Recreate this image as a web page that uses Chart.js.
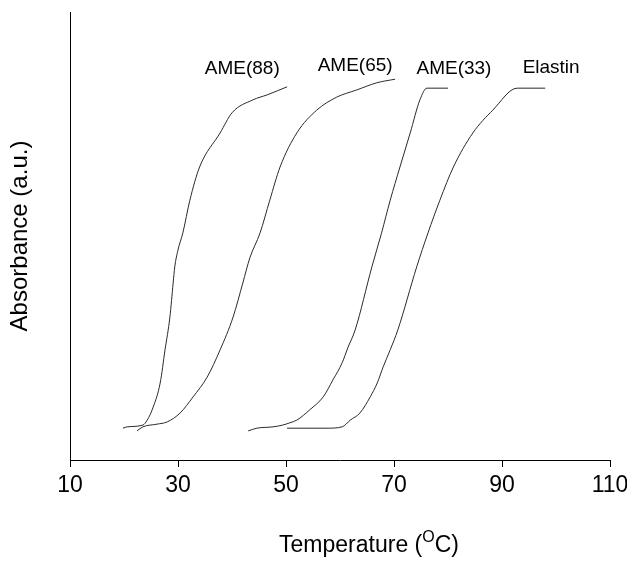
<!DOCTYPE html>
<html>
<head>
    <title></title>
    <script src="https://cdn.jsdelivr.net/npm/chart.js"></script>
    <style>
        body { margin: 0; background: #fff; }
        canvas { display: block; }
    </style>
</head>
<body>
    <canvas id="meltChart" width="627" height="561"></canvas>

    <script>
        // temperature (C) and absorbance (a.u.)
        const ame88T = [19.8, 20.6, 23.5, 24.3, 25.4, 26.7, 27.6, 28.5, 29.1, 29.4, 30.0, 30.9, 32.2, 34.0, 37.8, 40.0, 43.9, 46.5, 50.2];
        const ame88A = [0.071, 0.074, 0.078, 0.089, 0.118, 0.172, 0.246, 0.319, 0.395, 0.431, 0.469, 0.507, 0.580, 0.654, 0.730, 0.775, 0.804, 0.815, 0.833];

        const ame65T = [22.4, 23.5, 26.1, 28.0, 30.4, 32.8, 35.4, 37.8, 40.2, 42.0, 43.3, 45.2, 47.0, 48.9, 52.0, 55.7, 59.4, 63.1, 66.8, 70.2];
        const ame65A = [0.065, 0.074, 0.080, 0.085, 0.105, 0.141, 0.185, 0.246, 0.319, 0.395, 0.451, 0.507, 0.580, 0.654, 0.730, 0.781, 0.810, 0.826, 0.842, 0.850];

        const ame33T = [43.0, 44.6, 47.6, 49.4, 50.7, 52.0, 54.4, 56.9, 58.7, 60.4, 61.5, 62.8, 65.9, 67.7, 69.3, 71.1, 73.0, 74.8, 76.1, 80.0];
        const ame33A = [0.065, 0.071, 0.074, 0.078, 0.083, 0.089, 0.112, 0.141, 0.179, 0.217, 0.252, 0.290, 0.431, 0.507, 0.580, 0.654, 0.730, 0.804, 0.830, 0.830];

        const elastinT = [50.2, 57.6, 60.4, 61.9, 63.7, 65.6, 66.9, 68.0, 69.3, 70.7, 74.2, 76.3, 78.5, 81.0, 84.6, 88.3, 92.8, 98.0];
        const elastinA = [0.071, 0.071, 0.074, 0.089, 0.105, 0.141, 0.172, 0.208, 0.246, 0.290, 0.431, 0.507, 0.580, 0.654, 0.730, 0.781, 0.830, 0.830];

        // curve labels (text, temperature, absorbance of baseline)
        const curveNames = ['AME(88)', 'AME(65)', 'AME(33)', 'Elastin'];
        const nameT = [41.9, 62.8, 81.1, 99.1];
        const nameA = [0.862, 0.868, 0.862, 0.864];

        const xTicks = [10, 30, 50, 70, 90, 110];

        const FONT = "'Liberation Sans', Arial, sans-serif";

        function pts(t, a) {
            return t.map((v, i) => ({ x: v, y: a[i] }));
        }

        function curve(label, t, a) {
            return {
                label: label,
                data: pts(t, a),
                borderColor: '#2a2a2a',
                borderWidth: 1,
                pointRadius: 0,
                cubicInterpolationMode: 'monotone',
                fill: false
            };
        }

        // labels next to each curve + x title with superscript O
        const textPlugin = {
            id: 'textPlugin',
            afterDraw(chart) {
                const c = chart.ctx;
                const xs = chart.scales.x, ys = chart.scales.y;
                c.save();
                c.fillStyle = '#000';
                c.font = '19px ' + FONT;
                c.textAlign = 'center';
                c.textBaseline = 'alphabetic';
                curveNames.forEach((n, i) => {
                    c.fillText(n, xs.getPixelForValue(nameT[i]), ys.getPixelForValue(nameA[i]));
                });

                // Temperature (OC)
                const area = chart.chartArea;
                const base = chart.height - 9;
                const big = '23px ' + FONT, small = '16px ' + FONT;
                const p1 = 'Temperature (', p2 = 'O', p3 = 'C)';
                c.font = big;
                const w1 = c.measureText(p1).width, w3 = c.measureText(p3).width;
                c.font = small;
                const w2 = c.measureText(p2).width;
                let x = (area.left + area.right) / 2 + 29 - (w1 + w2 + w3) / 2;
                c.textAlign = 'left';
                c.font = big;
                c.fillText(p1, x, base);
                x += w1;
                c.font = small;
                c.fillText(p2, x, base - 10);
                x += w2;
                c.font = big;
                c.fillText(p3, x, base);
                c.restore();
            }
        };

        const ctx = document.getElementById('meltChart').getContext('2d');
        const meltChart = new Chart(ctx, {
            type: 'line',
            data: {
                datasets: [
                    curve('AME(88)', ame88T, ame88A),
                    curve('AME(65)', ame65T, ame65A),
                    curve('AME(33)', ame33T, ame33A),
                    curve('Elastin', elastinT, elastinA)
                ]
            },
            options: {
                responsive: false,
                animation: false,
                layout: {
                    padding: { top: 12, right: 17, left: 0, bottom: 0 }
                },
                plugins: {
                    legend: { display: false },
                    tooltip: { enabled: false }
                },
                scales: {
                    x: {
                        type: 'linear',
                        min: 10,
                        max: 110,
                        afterBuildTicks: s => { s.ticks = xTicks.map(v => ({ value: v })); },
                        afterFit: s => { s.height = 101; s.paddingRight = 0; s.paddingLeft = 0; },
                        ticks: {
                            color: '#000',
                            padding: 5,
                            maxRotation: 0,
                            font: { family: FONT, size: 23 }
                        },
                        grid: {
                            drawOnChartArea: false,
                            drawTicks: true,
                            tickLength: 7,
                            tickColor: '#000'
                        },
                        border: { display: true, color: '#000', width: 1 }
                    },
                    y: {
                        type: 'linear',
                        min: 0,
                        max: 1,
                        afterFit: s => { s.width = 70; },
                        ticks: { display: false },
                        grid: { display: false },
                        border: { display: true, color: '#000', width: 1 },
                        title: {
                            display: true,
                            text: 'Absorbance (a.u.)',
                            color: '#000',
                            padding: { top: 6, bottom: 0 },
                            font: { family: FONT, size: 24 }
                        }
                    }
                }
            },
            plugins: [textPlugin]
        });
    </script>
</body>
</html>
